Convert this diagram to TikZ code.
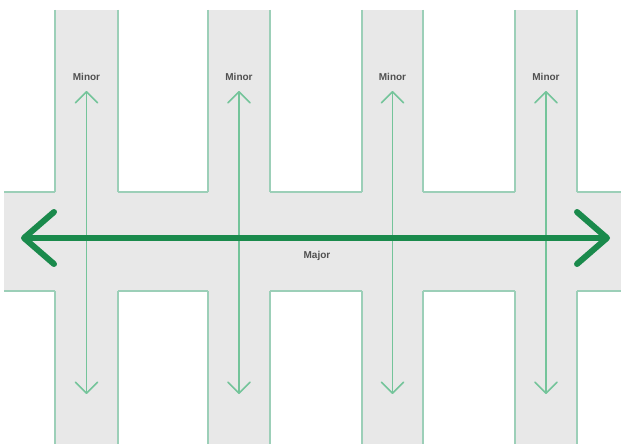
\documentclass[tikz,border=0pt]{standalone}
\usepackage{fontspec}
\setmainfont{Liberation Sans}
\usetikzlibrary{arrows.meta}
\definecolor{roadfill}{HTML}{E8E8E8}
\definecolor{roadedge}{HTML}{9CCFB8}
\definecolor{majorgreen}{HTML}{1A8A4C}
\definecolor{minorgreen}{HTML}{74C49A}
\definecolor{labelgrey}{HTML}{505050}
\tikzset{
  edgeline/.style={draw=roadedge, line width=1.5pt},
  majorarrow/.style={draw=majorgreen, line width=6pt,
    {Straight Barb[length=30pt,width=52pt,round]}-{Straight Barb[length=30pt,width=52pt,round]}},
  minorarrow/.style={draw=minorgreen, line width=1.6pt,
    {Straight Barb[length=11pt,width=22pt,round]}-{Straight Barb[length=11pt,width=22pt,round]}},
  lbl/.style={font=\fontsize{10}{11}\selectfont\bfseries, text=labelgrey, inner sep=0pt}
}
\begin{document}
\begin{tikzpicture}[x=1pt,y=-1pt]
\useasboundingbox (0,0) rectangle (624,444);
\fill[white] (0,0) rectangle (624,444);
% road fill
\fill[roadfill] (4,192) rectangle (621,291);
\foreach \a/\b in {55/118,208/270,362/423,515/577}{
  \fill[roadfill] (\a,10) rectangle (\b,444);
}
% edges
\foreach \a/\b in {55/118,208/270,362/423,515/577}{
  \draw[edgeline] (\a,10) -- (\a,192);
  \draw[edgeline] (\b,10) -- (\b,192);
  \draw[edgeline] (\a,291) -- (\a,444);
  \draw[edgeline] (\b,291) -- (\b,444);
}
\draw[edgeline] (4,192) -- (55,192);
\draw[edgeline] (118,192) -- (208,192);
\draw[edgeline] (270,192) -- (362,192);
\draw[edgeline] (423,192) -- (515,192);
\draw[edgeline] (577,192) -- (621,192);
\draw[edgeline] (4,291) -- (55,291);
\draw[edgeline] (118,291) -- (208,291);
\draw[edgeline] (270,291) -- (362,291);
\draw[edgeline] (423,291) -- (515,291);
\draw[edgeline] (577,291) -- (621,291);
% minor arrows
\foreach \i/\x in {1/86.5,2/239,3/392.5,4/546}{
  \coordinate (mt\i) at (\x,91);
  \coordinate (mb\i) at (\x,394);
  \node[lbl] (ml\i) at (\x,77) {Minor};
  \draw[minorarrow] (mt\i) -- (mb\i);
}
% major arrow
\coordinate (ml) at (21,238);
\coordinate (mr) at (610,238);
\draw[majorarrow] (ml) -- (mr);
\node[lbl] (majorlbl) at (317,256) {Major};
\end{tikzpicture}
\end{document}
